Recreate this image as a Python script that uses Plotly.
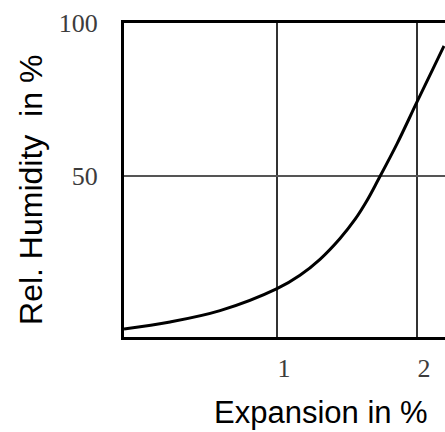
import plotly.graph_objects as go

# Data
expansion = [-0.093, 0.236, 0.593, 1.0, 1.164, 1.307, 1.45, 1.557, 1.643, 1.721,
             1.857, 2.0, 2.114, 2.193]
humidity = [0.0, 2.3, 6.0, 13.2, 17.6, 22.8, 29.6, 35.8, 42.0, 48.6,
            60.5, 74.2, 85.0, 92.5]

x_tickvals = [1, 2]
x_ticktext = ["1", "2"]
y_tickvals = [50, 100]
y_ticktext = ["50", "100"]

fig = go.Figure()
fig.add_trace(go.Scatter(
    x=expansion, y=humidity, mode="lines",
    line=dict(color="black", width=3, shape="spline", smoothing=1.0),
    hoverinfo="skip", showlegend=False,
))

tick_font = dict(family="Liberation Serif", size=26, color="#3c3c3c")

fig.update_layout(
    width=445, height=432,
    margin=dict(l=124, r=0, t=23, b=95),
    paper_bgcolor="white", plot_bgcolor="white",
    showlegend=False,
    xaxis=dict(
        range=[-0.093, 2.2], tickvals=x_tickvals, ticktext=x_ticktext,
        showgrid=True, gridcolor="#333333", gridwidth=1.5,
        showline=True, linecolor="black", linewidth=3, mirror=True,
        ticks="", zeroline=False, tickfont=tick_font,
        ticklabelshift=7, ticklabelstandoff=6,
    ),
    yaxis=dict(
        range=[-2.6, 100], tickvals=y_tickvals, ticktext=y_ticktext,
        showgrid=True, gridcolor="#555555", gridwidth=1.5,
        showline=True, linecolor="black", linewidth=3, mirror=False,
        ticks="", zeroline=False, tickfont=tick_font,
        ticklabelstandoff=18,
    ),
    annotations=[
        dict(text="Expansion in %", xref="paper", yref="paper",
             x=0.614, y=-0.242, xanchor="center", yanchor="middle",
             showarrow=False,
             font=dict(family="Liberation Sans", size=31, color="black")),
        dict(text="Rel. Humidity\u00a0 in %", xref="paper", yref="paper",
             x=-0.29, y=0.468, xanchor="center", yanchor="middle",
             textangle=-90, showarrow=False,
             font=dict(family="Liberation Sans", size=32, color="black")),
    ],
)

fig.write_html("out.html")
